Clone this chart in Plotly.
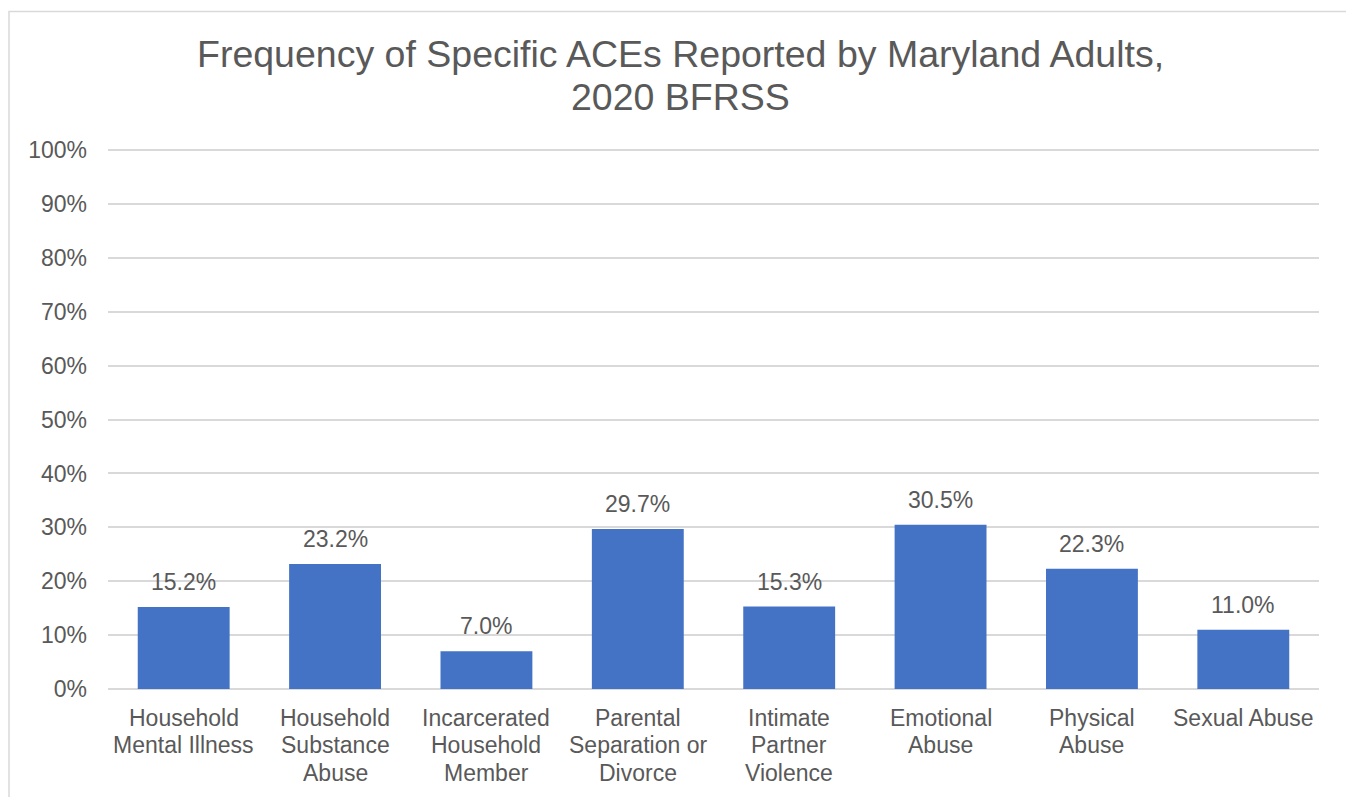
import plotly.graph_objects as go

# ACE categories (label lines) and the share of adults reporting each
categories = [
    "Household Mental Illness",
    "Household Substance Abuse",
    "Incarcerated Household Member",
    "Parental Separation or Divorce",
    "Intimate Partner Violence",
    "Emotional Abuse",
    "Physical Abuse",
    "Sexual Abuse",
]
label_lines = [
    ["Household", "Mental Illness"],
    ["Household", "Substance", "Abuse"],
    ["Incarcerated", "Household", "Member"],
    ["Parental", "Separation or", "Divorce"],
    ["Intimate", "Partner", "Violence"],
    ["Emotional", "Abuse"],
    ["Physical", "Abuse"],
    ["Sexual Abuse"],
]
percent = [15.2, 23.2, 7.0, 29.7, 15.3, 30.5, 22.3, 11.0]
y_ticks = [0, 10, 20, 30, 40, 50, 60, 70, 80, 90, 100]
title_lines = ["Frequency of Specific ACEs Reported by Maryland Adults,", "2020 BFRSS"]

TEXT = "#595959"
GRID = "#d9d9d9"
BAR = "#4472C4"
FONT = "Liberation Sans, Arial, sans-serif"

W, H = 1346, 797
Y_TOP = 100.6                     # a little above 100% so the top gridline is drawn
ML, MR, MB = 108, 27, 107.5
PH = 539.5 * Y_TOP / 100
MT = H - MB - PH
PW = W - ML - MR

fig = go.Figure(
    go.Bar(
        x=categories,
        y=percent,
        marker=dict(color=BAR, line=dict(width=0)),
        hoverinfo="skip",
    )
)

annotations = []
# value labels above each bar
for cat, v in zip(categories, percent):
    annotations.append(dict(
        x=cat, y=v, xref="x", yref="y", text=f"{v:.1f}%", showarrow=False,
        yanchor="middle", yshift=25, font=dict(family=FONT, size=23, color=TEXT),
    ))
# wrapped category labels under the axis
for cat, lines in zip(categories, label_lines):
    for i, line in enumerate(lines):
        annotations.append(dict(
            x=cat, y=0, xref="x", yref="y", text=line, showarrow=False,
            yanchor="middle", yshift=-(28.5 + 27.5 * i),
            font=dict(family=FONT, size=23, color=TEXT),
        ))
# chart title, two lines
for i, line in enumerate(title_lines):
    annotations.append(dict(
        x=(680 - ML) / PW, y=(H - MB - (54 + 43 * i)) / PH,
        xref="paper", yref="paper", text=line, showarrow=False,
        xanchor="center", yanchor="middle",
        font=dict(family=FONT, size=37.5, color=TEXT),
    ))

# light outline around the chart area
shapes = [dict(
    type="rect", xref="paper", yref="paper",
    x0=(9 - ML) / PW, x1=(1400 - ML) / PW,
    y0=(H - MB - 850) / PH, y1=(H - MB - 11) / PH,
    line=dict(color=GRID, width=1.5), fillcolor="rgba(0,0,0,0)", layer="below",
)]

fig.update_layout(
    width=W, height=H,
    margin=dict(l=ML, r=MR, t=MT, b=MB, pad=0),
    paper_bgcolor="white", plot_bgcolor="white",
    bargap=0.393,
    showlegend=False,
    annotations=annotations,
    shapes=shapes,
    font=dict(family=FONT, color=TEXT),
)
fig.update_xaxes(showticklabels=False, showgrid=False, zeroline=False,
                 showline=False, fixedrange=True)
fig.update_yaxes(
    range=[0, Y_TOP], tickvals=y_ticks, ticktext=[f"{t}%" for t in y_ticks],
    showgrid=True, gridcolor=GRID, gridwidth=1.5,
    zeroline=True, zerolinecolor=GRID, zerolinewidth=1.5,
    showline=False, ticks="", ticklabelstandoff=20,
    tickfont=dict(family=FONT, size=23, color=TEXT),
    fixedrange=True,
)

fig.write_html("out.html")
